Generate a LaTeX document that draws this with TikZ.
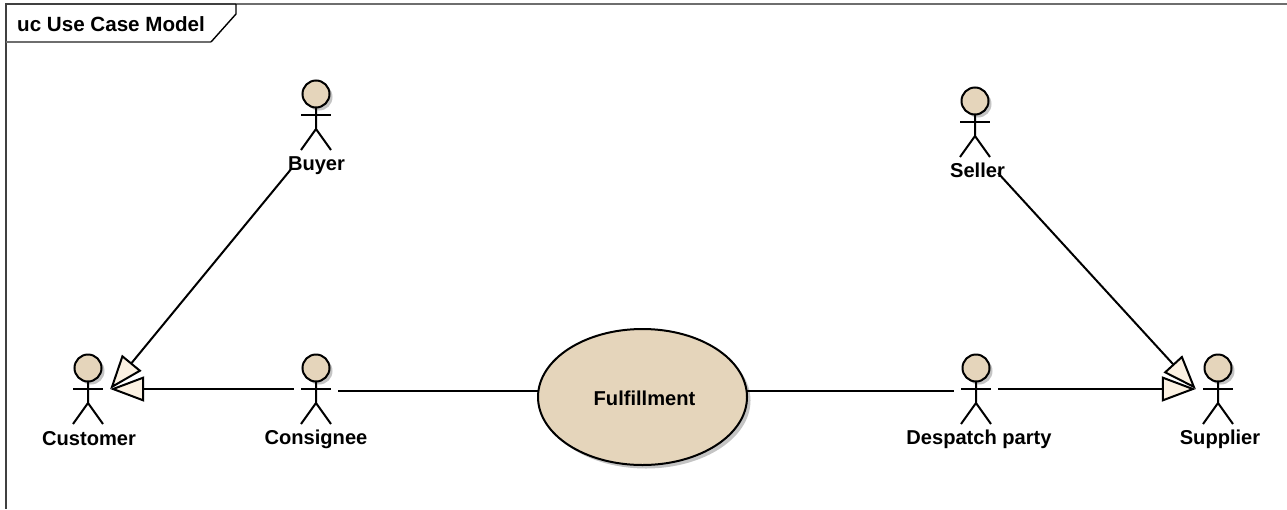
\documentclass[tikz,border=0pt]{standalone}
\usepackage{fontspec}
\setmainfont{Liberation Sans}
\usetikzlibrary{arrows.meta,shapes.geometric}
\definecolor{fillc}{HTML}{E5D5BB}
\definecolor{tipc}{HTML}{FBF1E2}
\definecolor{shadowc}{HTML}{C4C4C4}
\definecolor{framec}{HTML}{6E6E6E}
\tikzset{
  x=1pt,y=-1pt,
  txt/.style={font=\fontsize{20.1}{22}\selectfont\bfseries,text=black,inner sep=0pt},
  lne/.style={line width=2pt,draw=black},
  actorbox/.style={rectangle,draw=none,minimum width=44pt,minimum height=69pt,inner sep=0pt},
  assoc/.style={lne},
  gen/.style={lne,-{Triangle[length=34pt,width=25pt,fill=tipc]}},
  actor/.pic={
    \fill[shadowc] (3,-18) circle (13.5);
    \draw[lne,fill=fillc] (0,-21) circle (13.5);
    \draw[lne] (-15,0) -- (15,0);
    \draw[lne] (0,-7) -- (0,14) (-15,35) -- (0,14) -- (15,35);
  }
}
\begin{document}
\begin{tikzpicture}
\useasboundingbox (0,0) rectangle (1287,509);
% frame
\draw[line width=2pt,draw=framec] (1287,4) -- (236,4);
\draw[line width=2pt,draw=black!75] (236,4) -- (6,4) -- (6,509);
\draw[line width=2pt,draw=framec] (6,42) -- (211,42);
\draw[line width=1.4pt,draw=black] (211,42) -- (236,14) -- (236,4);
\node[txt,anchor=west,font=\fontsize{20.6}{22}\selectfont\bfseries] (title) at (17,24.5) {uc Use Case Model};
% actors
\node[actorbox] (buyer) at (316,115) {};
\node[actorbox] (seller) at (975,122) {};
\node[actorbox] (customer) at (88,389) {};
\node[actorbox] (consignee) at (316,389) {};
\node[actorbox] (despatch) at (976,389) {};
\node[actorbox] (supplier) at (1218,389) {};
\foreach \n in {buyer,seller,customer,consignee,despatch,supplier} \pic at (\n.center) {actor};
% labels
\node[txt] (buyerlabel) at (316.5,165.5) {Buyer};
\node[txt] (sellerlabel) at (977.5,170) {Seller};
\node[txt] (customerlabel) at (89,439) {Customer};
\node[txt] (consigneelabel) at (316,439) {Consignee};
\node[txt] (despatchlabel) at (979,439) {Despatch party};
\node[txt] (supplierlabel) at (1220,439) {Supplier};
% use case shadow
\fill[shadowc] (646,400.5) ellipse (104.5 and 68);
% connectors
\coordinate (buyerend) at (292,168);
\coordinate (sellerend) at (998,173);
\node[ellipse,draw=none,minimum width=209pt,minimum height=136pt,inner sep=0pt] (fulfilbox) at (642.5,397) {};
\draw[assoc] ([yshift=-2pt]consignee.east) -- ([yshift=6pt]fulfilbox.west);
\draw[assoc] ([yshift=6pt]fulfilbox.east) -- ([yshift=-2pt]despatch.west);
\draw[gen] (buyerend) -- (customer.east);
\draw[gen] (consignee.west) -- (customer.east);
\draw[gen] (sellerend) -- (supplier.west);
\draw[gen] (despatch.east) -- (supplier.west);
% use case
\node[ellipse,lne,fill=fillc,minimum width=209pt,minimum height=136pt,inner sep=0pt] (fulfil) at (642.5,397) {};
\node[txt] (fulfillabel) at (644.5,398.5) {Fulfillment};
\end{tikzpicture}
\end{document}
